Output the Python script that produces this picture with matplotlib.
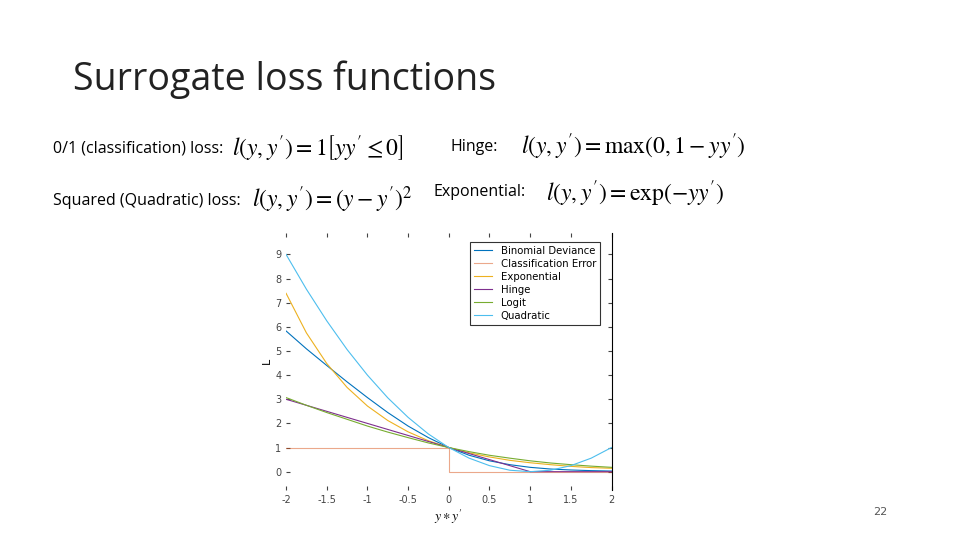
import matplotlib

matplotlib.use("Agg")
import matplotlib.pyplot as plt

plt.rcParams["mathtext.fontset"] = "stix"

# margin m = y*y'
m = [-2, -1.75, -1.5, -1.25, -1, -0.75, -0.5, -0.25, 0, 0.25, 0.5, 0.75, 1, 1.25, 1.5, 1.75, 2]
binomial = [5.83, 5.09, 4.40, 3.72, 3.07, 2.45, 1.89, 1.41, 1.0, 0.68, 0.45, 0.29, 0.18, 0.11, 0.07, 0.043, 0.026]
exponential = [7.39, 5.75, 4.48, 3.49, 2.72, 2.12, 1.65, 1.28, 1.0, 0.78, 0.61, 0.47, 0.37, 0.29, 0.22, 0.17, 0.14]
hinge = [3.0, 2.75, 2.5, 2.25, 2.0, 1.75, 1.5, 1.25, 1.0, 0.75, 0.5, 0.25, 0.0, 0.0, 0.0, 0.0, 0.0]
logit = [3.07, 2.75, 2.45, 2.17, 1.89, 1.64, 1.41, 1.19, 1.0, 0.83, 0.68, 0.56, 0.45, 0.36, 0.29, 0.23, 0.18]
quadratic = [9.0, 7.56, 6.25, 5.06, 4.0, 3.06, 2.25, 1.56, 1.0, 0.56, 0.25, 0.06, 0.0, 0.06, 0.25, 0.56, 1.0]
clf_x = [-2, 0, 0, 2]
clf_y = [1, 1, 0, 0]

fig = plt.figure(figsize=(9.6, 5.4), dpi=100)
fig.text(0.076, 0.852, "Surrogate loss functions", fontsize=27, family="Open Sans",
         color="#222222", va="center")

fs = 11.5
ff = 17
fig.text(0.055, 0.725, "0/1 (classification) loss:", fontsize=fs, family="Open Sans", va="center")
fig.text(0.242, 0.725, r"$l(y,y')=1\left[yy'\leq 0\right]$", fontsize=ff, va="center")
fig.text(0.469, 0.728, "Hinge:", fontsize=fs, family="Open Sans", va="center")
fig.text(0.543, 0.728, r"$l(y,y')=\max(0,1-yy')$", fontsize=ff, va="center")
fig.text(0.055, 0.627, "Squared (Quadratic) loss:", fontsize=fs, family="Open Sans", va="center")
fig.text(0.262, 0.630, r"$l(y,y')=(y-y')^2$", fontsize=ff, va="center")
fig.text(0.452, 0.645, "Exponential:", fontsize=fs, family="Open Sans", va="center")
fig.text(0.569, 0.642, r"$l(y,y')=\exp(-yy')$", fontsize=ff, va="center")
fig.text(0.917, 0.046, "22", fontsize=8, color="#555555", ha="center")

ax = fig.add_axes([0.298, 0.093, 0.339, 0.476])
ax.plot(m, binomial, color="#0072BD", lw=0.8, label="Binomial Deviance")
ax.plot(clf_x, clf_y, color="#D95319", lw=0.8, alpha=0.5, label="Classification Error")
ax.plot(m, exponential, color="#EDB120", lw=0.8, label="Exponential")
ax.plot(m, hinge, color="#7E2F8E", lw=0.8, label="Hinge")
ax.plot(m, logit, color="#77AC30", lw=0.8, label="Logit")
ax.plot(m, quadratic, color="#4DBEEE", lw=0.8, label="Quadratic")
ax.set_xlim(-2, 2)
ax.set_ylim(-0.75, 9.9)
ax.set_xticks([-2, -1.5, -1, -0.5, 0, 0.5, 1, 1.5, 2])
ax.set_xticklabels(["-2", "-1.5", "-1", "-0.5", "0", "0.5", "1", "1.5", "2"])
ax.set_yticks(range(10))
ax.tick_params(labelsize=7, colors="#444444", direction="in", length=3,
               top=True, right=True)
for side in ["left", "bottom", "top"]:
    ax.spines[side].set_visible(False)
ax.spines["right"].set_linewidth(0.8)
ax.set_xlabel(r"$y\ast y'$", fontsize=10, labelpad=2)
ax.set_ylabel("L", fontsize=8, labelpad=2)
leg = ax.legend(loc="upper right", fontsize=7.3, frameon=True, fancybox=False,
                edgecolor="black", borderpad=0.4, labelspacing=0.3, handlelength=1.8,
                bbox_to_anchor=(0.98, 0.985))
leg.get_frame().set_linewidth(0.8)

fig.savefig("out.png", dpi=100)
